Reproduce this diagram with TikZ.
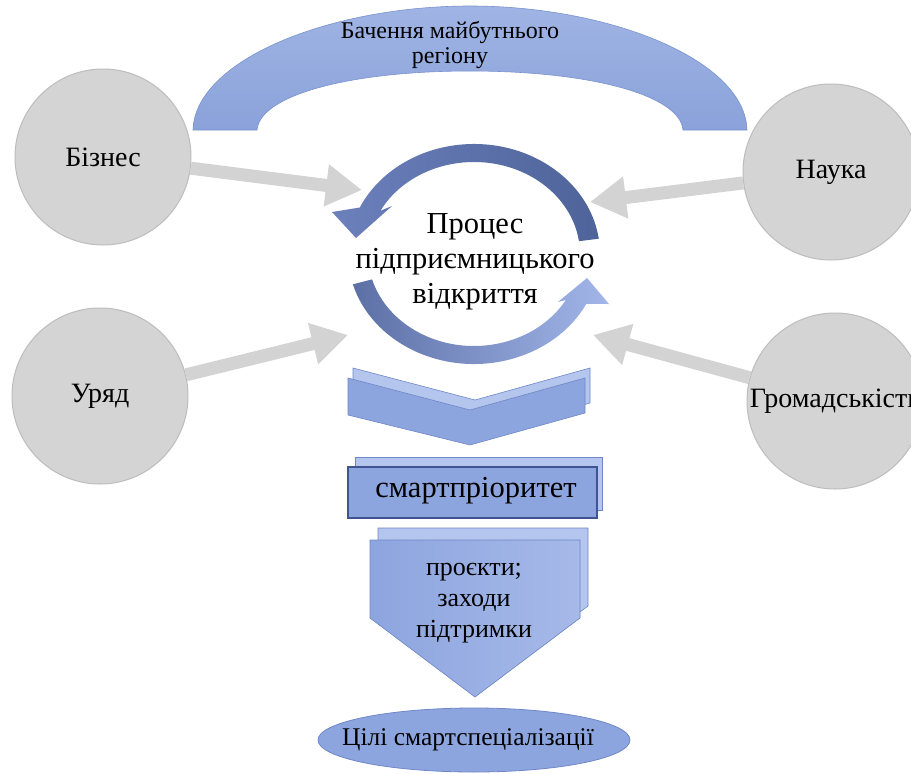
\documentclass[tikz,border=0pt]{standalone}
\usepackage{fontspec}
\setmainfont{Liberation Serif}
\usetikzlibrary{arrows.meta,shapes.geometric}
\definecolor{circfill}{HTML}{D4D4D4}
\definecolor{circline}{HTML}{BDBDBD}
\definecolor{garrowc}{HTML}{D3D3D3}
\definecolor{arcTop}{HTML}{A0B4E4}
\definecolor{arcBot}{HTML}{8AA2DA}
\definecolor{arcLine}{HTML}{7A93CF}
\definecolor{ringDark}{HTML}{4E6399}
\definecolor{ringMid}{HTML}{6C81BC}
\definecolor{ringLight}{HTML}{A2B6EA}
\definecolor{ringBotL}{HTML}{5C70A6}
\definecolor{boxFront}{HTML}{8DA5DF}
\definecolor{boxFrontL}{HTML}{A6B9E8}
\definecolor{boxBack}{HTML}{B4C6EE}
\definecolor{boxLine}{HTML}{6F87C6}
\definecolor{boxDark}{HTML}{3F5490}
\begin{document}
\begin{tikzpicture}[x=1pt,y=1pt,
  actor/.style={circle, minimum size=176pt, inner sep=0pt, fill=circfill, draw=circline, line width=1pt},
  lbl/.style={font=\fontsize{28}{32}\selectfont},
  garrow/.style={draw=garrowc, line width=13pt, -{Triangle[length=36pt,width=40pt]}},
  toptext/.style={font=\fontsize{24}{25}\selectfont, align=center},
  proctext/.style={font=\fontsize{30.5}{35}\selectfont, align=center},
  spbox/.style={rectangle, minimum width=249pt, minimum height=51pt, fill=boxFront, draw=boxDark, line width=1.5pt},
  sptext/.style={font=\fontsize{30.5}{32}\selectfont},
  backshape/.style={fill=boxBack, draw=boxLine, line width=0.6pt},
  frontshape/.style={fill=boxFront, draw=boxLine, line width=0.6pt},
  projtext/.style={font=\fontsize{26}{31}\selectfont, align=center},
  goal/.style={ellipse, minimum width=312pt, minimum height=64pt, inner sep=0pt, fill=boxFront, draw=boxLine, line width=0.8pt},
  goaltext/.style={font=\fontsize{25.5}{28}\selectfont}
]
\clip (0,0) rectangle (911,-774);
\fill[white] (0,0) rectangle (911,-774);

% top arch
\path[top color=arcTop, bottom color=arcBot, draw=arcLine, line width=0.6pt]
  (193,-130) .. controls (195,-60) and (330,-6) .. (470,-6)
  .. controls (610,-6) and (745,-60) .. (747,-130)
  -- (683,-130) .. controls (680,-95) and (590,-71) .. (470,-71)
  .. controls (350,-71) and (260,-95) .. (257,-130) -- cycle;
\node[toptext] (vision) at (450,-45) {Бачення майбутнього\\регіону};

% actors
\node[actor] (biz) at (103,-157) {};
\node[actor] (gov) at (100,-396) {};
\node[actor] (sci) at (831,-172) {};
\node[actor] (com) at (835,-401) {};
\node[lbl] (bizt) at (biz) {Бізнес};
\node[lbl] (govt) at (gov) {Уряд};
\node[lbl] (scit) at (sci) {Наука};
\node[lbl] (comt) at (com) {Громадськість};

% cycle ring
\begin{scope}[shift={(474,-254)}]
  \path[left color=ringMid, right color=ringDark]
    (8:126 and 110) arc[start angle=8, end angle=155, x radius=126, y radius=110]
    -- (-142,42) -- (-118,16) -- (-82,48)
    -- (152:106 and 92) arc[start angle=152, end angle=8, x radius=106, y radius=92] -- cycle;
  \path[left color=ringBotL, right color=ringLight]
    (196:126 and 110) arc[start angle=196, end angle=333, x radius=126, y radius=110]
    -- (135,-50) -- (113,-24) -- (84,-48)
    -- (330:106 and 92) arc[start angle=330, end angle=196, x radius=106, y radius=92] -- cycle;
\end{scope}
\node[proctext] (proc) at (475,-262) {Процес\\підприємницького\\відкриття};

% grey input arrows
\coordinate (tB) at (362,-190);
\coordinate (tG) at (348,-335);
\coordinate (tS) at (590,-202);
\coordinate (tC) at (593,-335);
\draw[garrow] (biz) -- (tB);
\draw[garrow] (gov) -- (tG);
\draw[garrow] (sci) -- (tS);
\draw[garrow] (com) -- (tC);

% chevrons
\path[backshape] (353,-368) -- (475,-400) -- (590,-368) -- (590,-403) -- (475,-435) -- (353,-405) -- cycle;
\path[frontshape] (348,-378) -- (470,-410) -- (585,-378) -- (585,-413) -- (470,-445) -- (348,-415) -- cycle;

% smart priority
\path[backshape] (355,-457) rectangle (602,-510);
\node[spbox] (sp) at (472.5,-492.5) {};
\node[sptext] (spt) at (476,-491) {смартпріоритет};

% projects pentagon
\path[backshape] (378,-528) -- (588,-528) -- (588,-606) -- (483,-685) -- (378,-606) -- cycle;
\path[frontshape, left color=boxFront, right color=boxFrontL] (370,-540) -- (580,-540) -- (580,-618) -- (475,-697) -- (370,-618) -- cycle;
\node[projtext] (proj) at (474,-603) {проєкти;\\заходи\\підтримки};

% goal
\node[goal] (goalnode) at (474,-740) {};
\node[goaltext] (goalt) at (468,-740) {Цілі смартспеціалізації};
\end{tikzpicture}
\end{document}
